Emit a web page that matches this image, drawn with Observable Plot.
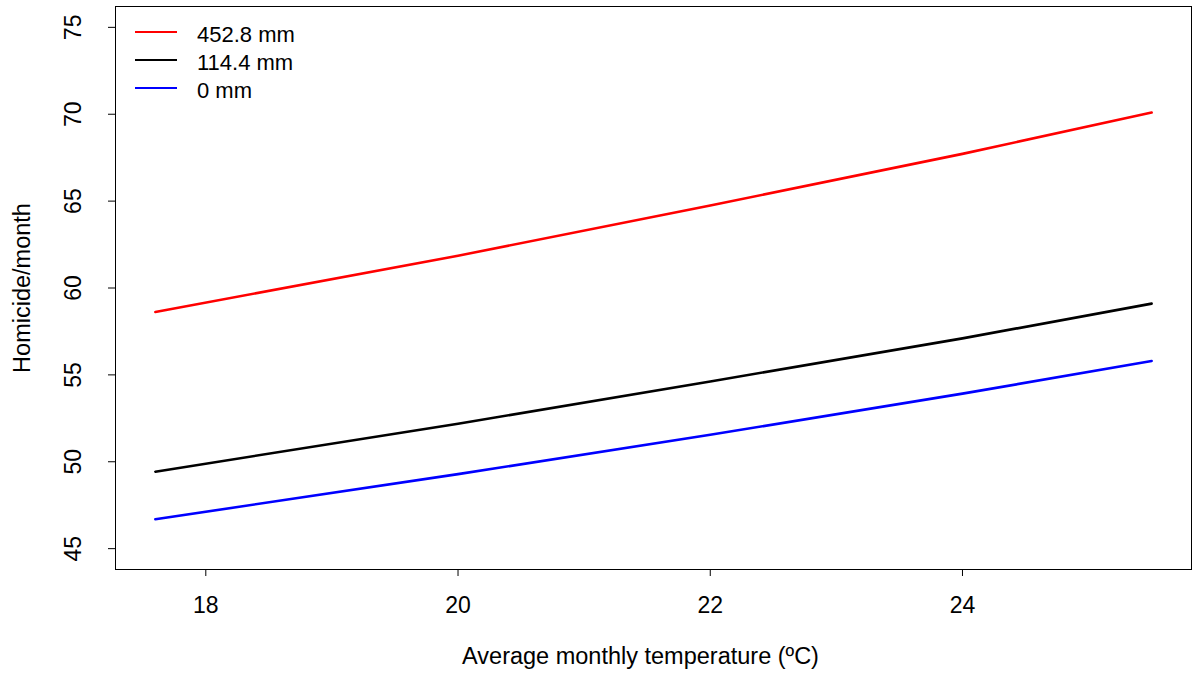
<!DOCTYPE html>
<html><head><meta charset="utf-8">
<script src="https://cdn.jsdelivr.net/npm/d3@7"></script>
<script src="https://cdn.jsdelivr.net/npm/@observablehq/plot@0.6"></script>
<style>
body{margin:0;background:#fff;}
#wrap{position:relative;width:1192px;height:684px;font-family:"Liberation Sans",Arial,sans-serif;}
.row{position:absolute;left:135px;height:20px;display:flex;align-items:center;font-size:22px;color:#000;}
.sw{width:42px;height:2.5px;margin-right:20px;}
.lab{transform:translateY(3px);white-space:nowrap;}
</style></head><body><div id="wrap"></div>
<script>
// Data
const temps   = [17.6, 20, 22, 24, 25.5];
const rain452 = [58.62, 61.86, 64.75, 67.72, 70.10];
const rain114 = [49.43, 52.19, 54.62, 57.10, 59.10];
const rain0   = [46.69, 49.29, 51.55, 53.92, 55.80];
const seriesLabels = ["452.8 mm", "114.4 mm", "0 mm"];
const seriesColors = ["#ff0000", "#000000", "#0000ff"];
const xTicks = [18, 20, 22, 24];
const yTicks = [45, 50, 55, 60, 65, 70, 75];
const xTitle = "Average monthly temperature (ºC)";
const yTitle = "Homicide/month";

const seriesValues = [rain452, rain114, rain0];
const rows = [];
seriesValues.forEach((vals, i) => vals.forEach((v, j) => rows.push({series: seriesLabels[i], t: temps[j], v})));

const font = '"Liberation Sans", Arial, sans-serif';
const chart = Plot.plot({
  width: 1192, height: 684,
  marginLeft: 115, marginRight: 1, marginTop: 6, marginBottom: 115,
  x: {domain: [17.284, 25.816]},
  y: {domain: [43.8, 76.2]},
  color: {domain: seriesLabels, range: seriesColors},
  style: {fontFamily: font, fontSize: "23px", color: "black", background: "white"},
  marks: [
    Plot.frame({stroke: "black", strokeWidth: 1}),
    Plot.axisX(xTicks, {tickSize: 7, tickFormat: () => "", label: null, stroke: "black"}),
    Plot.axisY(yTicks, {tickSize: 7, tickFormat: () => "", label: null, stroke: "black"}),
    Plot.text(xTicks, {x: d => d, text: d => String(d), frameAnchor: "bottom", textAnchor: "middle", dy: 43, fontSize: 23, fill: "black"}),
    Plot.text(yTicks, {y: d => d, text: d => String(d), frameAnchor: "left", textAnchor: "middle", dx: -42, rotate: -90, fontSize: 23, fill: "black"}),
    Plot.text([xTitle], {text: d => d, frameAnchor: "bottom", textAnchor: "middle", dx: -13, dy: 94, fontSize: 23.5, fill: "black"}),
    Plot.text([yTitle], {text: d => d, frameAnchor: "left", textAnchor: "middle", dx: -93, rotate: -90, fontSize: 23.5, fill: "black"}),
    Plot.line(rows, {x: "t", y: "v", z: "series", stroke: "series", strokeWidth: 2.6})
  ]
});
const wrap = document.getElementById("wrap");
wrap.appendChild(chart);
// legend overlay (inside plot box, top-left, like R's legend(bty="n"))
seriesLabels.forEach((lab, i) => {
  const row = document.createElement("div");
  row.className = "row";
  row.style.top = (22 + 28 * i) + "px";
  const sw = document.createElement("div");
  sw.className = "sw";
  sw.style.background = seriesColors[i];
  const t = document.createElement("span");
  t.className = "lab";
  t.textContent = lab;
  row.appendChild(sw); row.appendChild(t);
  wrap.appendChild(row);
});
</script></body></html>
